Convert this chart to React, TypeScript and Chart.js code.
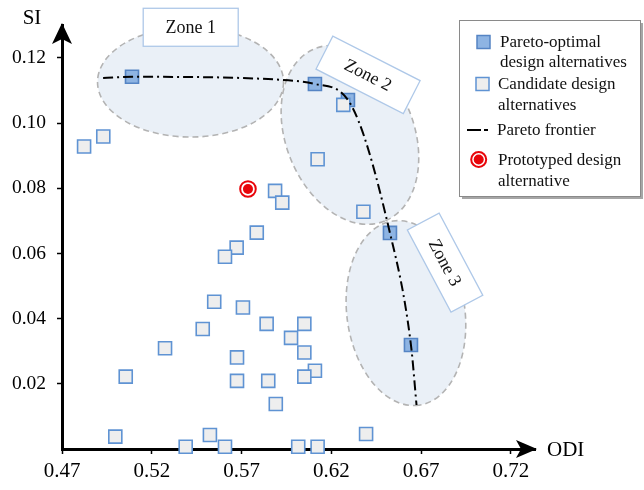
import React, { useEffect, useRef } from "react";
import { Chart, registerables } from "chart.js";

Chart.register(...registerables);

// ---------- data ----------
const X_TICKS = [0.47, 0.52, 0.57, 0.62, 0.67, 0.72];
const Y_TICKS = [0.02, 0.04, 0.06, 0.08, 0.1, 0.12];

const PARETO_ODI = [0.509, 0.6109, 0.6293, 0.6527, 0.6644];
const PARETO_SI = [0.1142, 0.112, 0.1071, 0.0663, 0.0319];

const CAND_ODI = [
  0.5887, 0.5927, 0.6379, 0.5785, 0.5673, 0.5608, 0.5548, 0.5708, 0.5484, 0.584,
  0.605, 0.5976, 0.605, 0.5274, 0.5675, 0.5055, 0.5675, 0.5849, 0.6109, 0.605,
  0.5891, 0.4997, 0.5524, 0.6394, 0.5389, 0.5608, 0.6016, 0.6124, 0.4823, 0.493,
  0.6267, 0.6124,
];
const CAND_SI = [
  0.0792, 0.0756, 0.0728, 0.0664, 0.0618, 0.059, 0.0452, 0.0434, 0.0368, 0.0384,
  0.0384, 0.0341, 0.0296, 0.0309, 0.0281, 0.0222, 0.0209, 0.0209, 0.024, 0.0222,
  0.0138, 0.0038, 0.0043, 0.0046, 0.0007, 0.0007, 0.0007, 0.0007, 0.0928, 0.0959,
  0.1056, 0.0889,
];

const FRONTIER_ODI = [0.4929, 0.509, 0.5915, 0.6109, 0.6293, 0.6527, 0.6644, 0.6675];
const FRONTIER_SI = [0.1138, 0.1142, 0.1133, 0.112, 0.1071, 0.0663, 0.0319, 0.0135];

const PROTO_ODI = [0.5736];
const PROTO_SI = [0.0798];

const ZONE_NAMES = ["Zone 1", "Zone 2", "Zone 3"];
const LEGEND_LINES = [
  ["Pareto-optimal", "design alternatives"],
  ["Candidate design", "alternatives"],
  ["Pareto frontier"],
  ["Prototyped design", "alternative"],
];
const X_TITLE = "ODI";
const Y_TITLE = "SI";

// ---------- annotation geometry (centres in data units) ----------
const ZONE_ELLIPSES = [
  { cx: 0.5416, cy: 0.1126, a: 93, b: 55, rot: 0 },
  { cx: 0.6304, cy: 0.0964, a: 93, b: 64, rot: 68 },
  { cx: 0.6616, cy: 0.0417, a: 93, b: 59, rot: 82 },
];
const ZONE_BOXES = [
  { cx: 0.5417, cy: 0.1294, w: 95, h: 38, rot: 0 },
  { cx: 0.6405, cy: 0.1148, w: 98, h: 37, rot: 27 },
  { cx: 0.6834, cy: 0.0572, w: 93, h: 36, rot: 62 },
];

const SERIF = "'Liberation Serif', 'Times New Roman', serif";
const CAND_FILL = "#eeeeee";
const CAND_BORDER = "#5f93d3";
const PARETO_FILL = "#8eb4e3";
const PARETO_BORDER = "#5584c4";
const RED = "#e8050a";
const ZONE_FILL = "#eaf0f7";

const toPts = (xs: number[], ys: number[]) => xs.map((x, i) => ({ x, y: ys[i] }));

const overlay = {
  id: "overlay",
  beforeDatasetsDraw(chart: any) {
    const { ctx, scales } = chart;
    const xs = scales.x;
    const ys = scales.y;
    ctx.save();
    ZONE_ELLIPSES.forEach((z) => {
      ctx.beginPath();
      ctx.ellipse(xs.getPixelForValue(z.cx), ys.getPixelForValue(z.cy), z.a, z.b, (z.rot * Math.PI) / 180, 0, Math.PI * 2);
      ctx.fillStyle = ZONE_FILL;
      ctx.fill();
    });
    ctx.setLineDash([6, 4]);
    ctx.lineWidth = 1.6;
    ctx.strokeStyle = "#b3b3b3";
    ZONE_ELLIPSES.forEach((z) => {
      ctx.beginPath();
      ctx.ellipse(xs.getPixelForValue(z.cx), ys.getPixelForValue(z.cy), z.a, z.b, (z.rot * Math.PI) / 180, 0, Math.PI * 2);
      ctx.stroke();
    });
    ctx.restore();
  },
  afterDatasetsDraw(chart: any) {
    const { ctx, scales } = chart;
    const xs = scales.x;
    const ys = scales.y;
    ctx.save();
    ZONE_BOXES.forEach((b, i) => {
      ctx.save();
      ctx.translate(xs.getPixelForValue(b.cx), ys.getPixelForValue(b.cy));
      ctx.rotate((b.rot * Math.PI) / 180);
      ctx.fillStyle = "#ffffff";
      ctx.fillRect(-b.w / 2, -b.h / 2, b.w, b.h);
      ctx.strokeStyle = "#aec8e8";
      ctx.lineWidth = 1.3;
      ctx.strokeRect(-b.w / 2, -b.h / 2, b.w, b.h);
      ctx.fillStyle = "#111";
      ctx.font = `18px ${SERIF}`;
      ctx.textAlign = "center";
      ctx.textBaseline = "middle";
      ctx.fillText(ZONE_NAMES[i], 0, 1);
      ctx.restore();
    });
    ctx.restore();
  },
  afterDraw(chart: any) {
    const { ctx, chartArea } = chart;
    const { left, top, right, bottom } = chartArea;
    ctx.save();
    ctx.fillStyle = "#000";
    // y arrow
    ctx.beginPath();
    ctx.moveTo(left, top - 2);
    ctx.lineTo(left + 10, top + 19);
    ctx.lineTo(left, top + 14);
    ctx.lineTo(left - 10, top + 19);
    ctx.closePath();
    ctx.fill();
    // x arrow
    ctx.beginPath();
    ctx.moveTo(right + 2, bottom);
    ctx.lineTo(right - 19, bottom - 9);
    ctx.lineTo(right - 14, bottom);
    ctx.lineTo(right - 19, bottom + 9);
    ctx.closePath();
    ctx.fill();
    // axis titles
    ctx.font = `21px ${SERIF}`;
    ctx.textBaseline = "middle";
    ctx.textAlign = "center";
    ctx.fillText(Y_TITLE, left - 30, top - 7);
    ctx.textAlign = "left";
    ctx.fillText(X_TITLE, right + 12, bottom + 1);

    // legend
    const lx = 459, ly = 20, lw = 181, lh = 176;
    ctx.fillStyle = "#a6a6a6";
    ctx.fillRect(lx + 3, ly + 3, lw, lh);
    ctx.fillStyle = "#ffffff";
    ctx.fillRect(lx, ly, lw, lh);
    ctx.strokeStyle = "#8a8a8a";
    ctx.lineWidth = 1;
    ctx.strokeRect(lx + 0.5, ly + 0.5, lw, lh);

    // markers
    ctx.lineWidth = 1.5;
    ctx.fillStyle = PARETO_FILL;
    ctx.strokeStyle = PARETO_BORDER;
    ctx.fillRect(477, 35.5, 13, 13);
    ctx.strokeRect(477, 35.5, 13, 13);
    ctx.fillStyle = CAND_FILL;
    ctx.strokeStyle = CAND_BORDER;
    ctx.fillRect(476, 77.5, 13, 13);
    ctx.strokeRect(476, 77.5, 13, 13);
    ctx.strokeStyle = "#000";
    ctx.lineWidth = 2;
    ctx.setLineDash([14, 3, 4, 3]);
    ctx.beginPath();
    ctx.moveTo(467, 130);
    ctx.lineTo(491, 130);
    ctx.stroke();
    ctx.setLineDash([]);
    ctx.beginPath();
    ctx.arc(478.7, 159.5, 7.5, 0, Math.PI * 2);
    ctx.fillStyle = "#fff";
    ctx.fill();
    ctx.strokeStyle = RED;
    ctx.lineWidth = 2;
    ctx.stroke();
    ctx.beginPath();
    ctx.arc(478.7, 159.5, 5, 0, Math.PI * 2);
    ctx.fillStyle = RED;
    ctx.fill();

    // texts
    ctx.fillStyle = "#111";
    ctx.font = `17px ${SERIF}`;
    ctx.textAlign = "left";
    ctx.textBaseline = "middle";
    const rows = [
      { x: 500, ys: [42, 62] },
      { x: 498, ys: [84, 105] },
      { x: 497, ys: [130] },
      { x: 498, ys: [159.5, 181] },
    ];
    rows.forEach((r, i) => {
      LEGEND_LINES[i].forEach((t, j) => ctx.fillText(t, r.x, r.ys[j] + 1));
    });
    ctx.restore();
  },
};

export default function App() {
  const ref = useRef<HTMLCanvasElement>(null);
  useEffect(() => {
    const proto = toPts(PROTO_ODI, PROTO_SI);
    const chart = new Chart(ref.current as HTMLCanvasElement, {
      type: "scatter",
      data: {
        datasets: [
          {
            data: toPts(FRONTIER_ODI, FRONTIER_SI),
            showLine: true,
            borderColor: "#000",
            borderWidth: 2,
            borderDash: [10, 4, 2, 4],
            pointRadius: 0,
            cubicInterpolationMode: "monotone",
            fill: false,
            order: 0,
            clip: false,
          } as any,
          {
            data: toPts(CAND_ODI, CAND_SI),
            pointStyle: "rect",
            pointRadius: 9.2,
            pointBorderWidth: 1.6,
            backgroundColor: CAND_FILL,
            borderColor: CAND_BORDER,
            order: 1,
            clip: false,
          } as any,
          {
            data: toPts(PARETO_ODI, PARETO_SI),
            pointStyle: "rect",
            pointRadius: 9.2,
            pointBorderWidth: 1.6,
            backgroundColor: PARETO_FILL,
            borderColor: PARETO_BORDER,
            order: 2,
            clip: false,
          } as any,
          {
            data: proto,
            pointStyle: "circle",
            pointRadius: 5,
            pointBorderWidth: 0,
            backgroundColor: RED,
            borderColor: RED,
            order: 3,
            clip: false,
          } as any,
          {
            data: proto,
            pointStyle: "circle",
            pointRadius: 7.8,
            pointBorderWidth: 2,
            backgroundColor: "#fff",
            borderColor: RED,
            order: 4,
            clip: false,
          } as any,
        ],
      },
      options: {
        responsive: false,
        animation: false,
        events: [],
        layout: { padding: { left: 0, top: 25, right: 109, bottom: 0 } },
        plugins: { legend: { display: false }, tooltip: { enabled: false } },
        scales: {
          x: {
            type: "linear",
            min: 0.47,
            max: 0.7335,
            afterBuildTicks: (axis: any) => {
              axis.ticks = X_TICKS.map((v) => ({ value: v }));
            },
            afterFit: (s: any) => {
              s.height = 41;
            },
            border: { display: true, color: "#000", width: 3 },
            grid: { drawOnChartArea: false, drawTicks: true, tickLength: 5, tickColor: "#000", tickWidth: 1.5 },
            ticks: {
              autoSkip: false,
              maxRotation: 0,
              padding: 5,
              color: "#000",
              font: { family: SERIF, size: 21 },
              callback: (v: any) => Number(v).toFixed(2),
            },
          },
          y: {
            type: "linear",
            min: 0,
            max: 0.1301,
            afterBuildTicks: (axis: any) => {
              axis.ticks = Y_TICKS.map((v) => ({ value: v }));
            },
            afterFit: (s: any) => {
              s.width = 62;
            },
            border: { display: true, color: "#000", width: 3 },
            grid: { drawOnChartArea: false, drawTicks: true, tickLength: 5, tickColor: "#000", tickWidth: 1.5 },
            ticks: {
              autoSkip: false,
              padding: 11,
              color: "#000",
              font: { family: SERIF, size: 19.5 },
              callback: (v: any) => Number(v).toFixed(2),
            },
          },
        },
      },
      plugins: [overlay],
    } as any);
    return () => chart.destroy();
  }, []);
  return (
    <div style={{ position: "absolute", left: 0, top: 0, width: 644, height: 490, background: "#fff" }}>
      <canvas ref={ref} width={644} height={490} style={{ width: 644, height: 490, display: "block" }} />
    </div>
  );
}
